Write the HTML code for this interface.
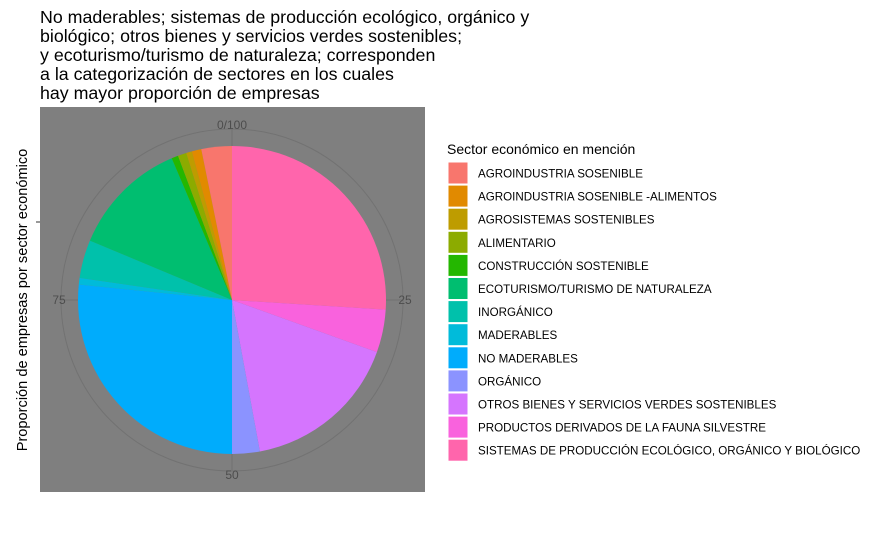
<!DOCTYPE html>
<html><head><meta charset="utf-8"><style>
body{margin:0;background:#fff;font-family:"Liberation Sans",sans-serif;}
</style></head><body>
<svg width="869" height="528" xmlns="http://www.w3.org/2000/svg" font-family="Liberation Sans, sans-serif">
<g font-size="17.8" fill="#000">
<text x="40" y="23">No maderables; sistemas de producción ecológico, orgánico y</text>
<text x="40" y="42">biológico; otros bienes y servicios verdes sostenibles;</text>
<text x="40" y="61">y ecoturismo/turismo de naturaleza; corresponden</text>
<text x="40" y="80">a la categorización de sectores en los cuales</text>
<text x="40" y="99">hay mayor proporción de empresas</text>
</g>
<text transform="translate(27,300) rotate(-90)" text-anchor="middle" font-size="14.6">Proporción de empresas por sector económico</text>
<line x1="36" y1="222" x2="40" y2="222" stroke="#333"/>
<rect x="40" y="107" width="385" height="385" fill="#7f7f7f"/>
<g id="grid"></g>
<g id="pie"></g>
<g id="legend"></g>
</svg>
<script>
const categories=["AGROINDUSTRIA SOSENIBLE","AGROINDUSTRIA SOSENIBLE -ALIMENTOS","AGROSISTEMAS SOSTENIBLES","ALIMENTARIO","CONSTRUCCIÓN SOSTENIBLE","ECOTURISMO/TURISMO DE NATURALEZA","INORGÁNICO","MADERABLES","NO MADERABLES","ORGÁNICO","OTROS BIENES Y SERVICIOS VERDES SOSTENIBLES","PRODUCTOS DERIVADOS DE LA FAUNA SILVESTRE","SISTEMAS DE PRODUCCIÓN ECOLÓGICO, ORGÁNICO Y BIOLÓGICO"];
const values=[3.2,1.0,0.6,0.9,0.7,12.3,4.0,0.7,26.6,2.9,16.6,4.5,26.0];
const colors=["#F8766D","#E18A00","#BE9C00","#8CAB00","#24B700","#00BE70","#00C1AB","#00BBDA","#00ACFC","#8B93FF","#D575FE","#F962DD","#FF65AC"];
const tickVals=[0,25,50,75];
const tickLabels=["0/100","25","50","75"];
const NS="http://www.w3.org/2000/svg";
const cx=232,cy=300,R=154,RG=171;
const total=values.reduce((a,b)=>a+b,0);
function ang(v){return v/total*2*Math.PI;}
function pt(a,r){return [cx+r*Math.sin(a),cy-r*Math.cos(a)];}
const grid=document.getElementById('grid');
const c=document.createElementNS(NS,'circle');
c.setAttribute('cx',cx);c.setAttribute('cy',cy);c.setAttribute('r',RG);c.setAttribute('fill','none');c.setAttribute('stroke','#727272');


grid.appendChild(c);
tickVals.forEach((t,i)=>{const a=t/100*2*Math.PI;const p=pt(a,RG),q=pt(a,0);
const l=document.createElementNS(NS,'line');l.setAttribute('x1',q[0]);l.setAttribute('y1',q[1]);l.setAttribute('x2',p[0]);l.setAttribute('y2',p[1]);l.setAttribute('stroke','#727272');


grid.appendChild(l);
const lp=pt(a,RG+2);const tx=document.createElementNS(NS,'text');
let x=lp[0],y=lp[1]+4;if(t===0)y=lp[1]+2;if(t===50)y=lp[1]+6;
tx.setAttribute('x',x);tx.setAttribute('y',y);tx.setAttribute('text-anchor','middle');tx.setAttribute('font-size','12');tx.setAttribute('fill','#4d4d4d');tx.textContent=tickLabels[i];


grid.appendChild(tx);});
const pie=document.getElementById('pie');
let cum=0;
for(let i=values.length-1;i>=0;i--){const a0=ang(cum),a1=ang(cum+values[i]);cum+=values[i];
const p0=pt(a0,R),p1=pt(a1,R);const large=(a1-a0)>Math.PI?1:0;
const p=document.createElementNS(NS,'path');
p.setAttribute('d',`M${cx},${cy}L${p0[0]},${p0[1]}A${R},${R} 0 ${large} 1 ${p1[0]},${p1[1]}Z`);
p.setAttribute('fill',colors[i]);


pie.appendChild(p);}
const lg=document.getElementById('legend');
const lt=document.createElementNS(NS,'text');lt.setAttribute('x',447);lt.setAttribute('y',154);lt.setAttribute('font-size','14');lt.textContent='Sector económico en mención';


lg.appendChild(lt);
categories.forEach((cat,i)=>{const y=162+i*23.1;
const r=document.createElementNS(NS,'rect');r.setAttribute('x',448);r.setAttribute('y',y);r.setAttribute('width',20);r.setAttribute('height',22);r.setAttribute('fill',colors[i]);r.setAttribute('stroke','#fff');


lg.appendChild(r);
const t=document.createElementNS(NS,'text');t.setAttribute('x',478);t.setAttribute('y',y+15.5);t.setAttribute('font-size','11.6');t.textContent=cat;


lg.appendChild(t);});
</script>
</body></html>
